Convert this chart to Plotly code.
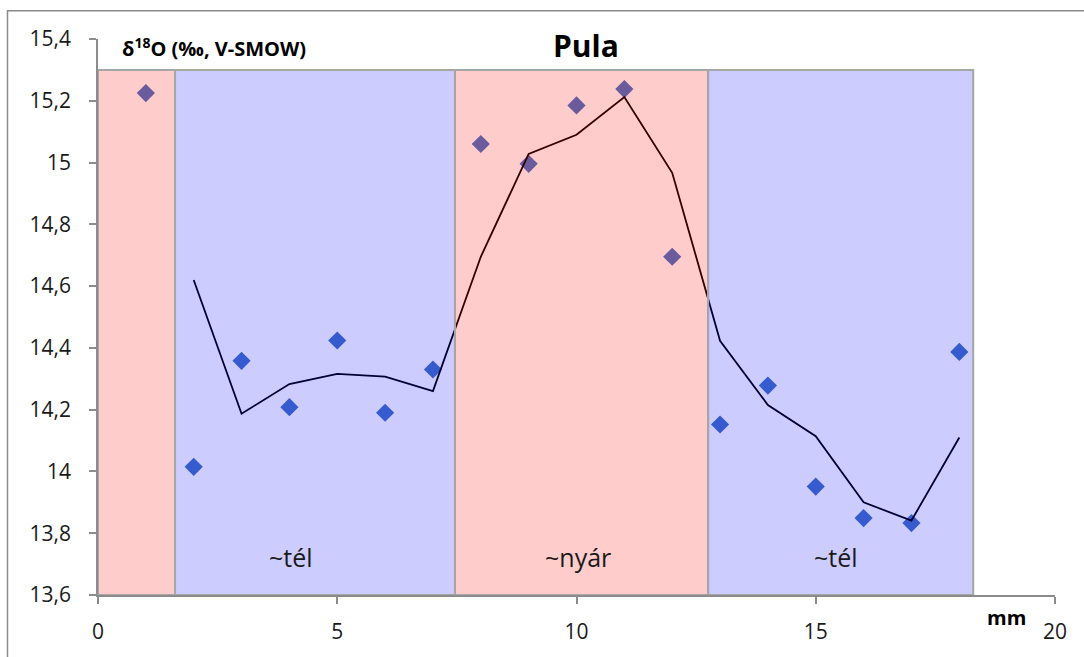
import plotly.graph_objects as go

# ---- data ----
x_points = [1, 2, 3, 4, 5, 6, 7, 8, 9, 10, 11, 12, 13, 14, 15, 16, 17, 18]
d18o = [15.225, 14.015, 14.358, 14.208, 14.424, 14.19, 14.33, 15.06, 14.996,
        15.185, 15.238, 14.695, 14.152, 14.278, 13.951, 13.849, 13.833, 14.387]

x_trend = [2, 3, 4, 5, 6, 7, 8, 9, 10, 11, 12, 13, 14, 15, 16, 17, 18]
trend = [14.62, 14.187, 14.283, 14.316, 14.307, 14.26, 14.695, 15.028, 15.09,
         15.212, 14.967, 14.423, 14.215, 14.114, 13.9, 13.841, 14.11]

season_start = [0, 1.61, 7.46, 12.75]
season_end = [1.61, 7.46, 12.75, 18.29]
season_kind = ["summer", "winter", "summer", "winter"]
season_top = 15.3

season_labels = ["~tél", "~nyár", "~tél"]
season_label_x = [4.03, 10.03, 15.42]
season_label_y = 13.724

x_ticks = [0, 5, 10, 15, 20]
x_tick_labels = ["0", "5", "10", "15", "20"]
y_ticks = [13.6, 13.8, 14.0, 14.2, 14.4, 14.6, 14.8, 15.0, 15.2, 15.4]
y_tick_labels = ["13,6", "13,8", "14", "14,2", "14,4", "14,6", "14,8", "15", "15,2", "15,4"]

title_text = "Pula"
y_title = "δ<sup>18</sup>O (‰, V-SMOW)"
x_title = "mm"

# ---- figure ----
W, H = 1084, 657
ml, mr, mt, mb = 98, 29, 39, 56
pw, ph = W - ml - mr, H - mt - mb

def px_x(p):
    return (p - ml) / pw

def px_y(p):
    return (H - mb - p) / ph

FONT = "Open Sans"
AX = "#8c8c8c"

fig = go.Figure()
fig.add_trace(go.Scatter(x=x_points, y=d18o, mode="markers",
                         marker=dict(symbol="diamond", size=14, color="#4472C4",
                                     line=dict(width=0)),
                         showlegend=False, hoverinfo="x+y"))
fig.add_trace(go.Scatter(x=x_trend, y=trend, mode="lines",
                         line=dict(color="#000000", width=1.8),
                         showlegend=False, hoverinfo="x+y"))

fill = {"summer": "rgba(255,0,0,0.2)", "winter": "rgba(0,0,255,0.2)"}
shapes = []
for s, e, k in zip(season_start, season_end, season_kind):
    shapes.append(dict(type="rect", xref="x", yref="y", x0=s, x1=e, y0=13.6, y1=season_top,
                       fillcolor=fill[k], line=dict(color="#a6a6a6", width=2), layer="above"))
# outer chart frame
shapes.append(dict(type="rect", xref="paper", yref="paper",
                   x0=px_x(7.5), x1=px_x(1100), y0=px_y(680), y1=px_y(10.5),
                   line=dict(color="#8a8a8a", width=1.5), fillcolor="rgba(0,0,0,0)", layer="above"))

annotations = [
    dict(text="<b>" + title_text + "</b>", x=px_x(586), y=px_y(46), xref="paper", yref="paper",
         showarrow=False, font=dict(family=FONT, size=30, color="#000"), xanchor="center", yanchor="middle"),
    dict(text="<b>" + y_title + "</b>", x=px_x(120), y=px_y(48), xref="paper", yref="paper",
         showarrow=False, font=dict(family=FONT, size=20, color="#000"), xanchor="left", yanchor="middle"),
    dict(text="<b>" + x_title + "</b>", x=px_x(1006), y=px_y(624), xref="paper", yref="paper",
         showarrow=False, font=dict(family=FONT, size=20, color="#000"), xanchor="center", yanchor="middle"),
]
for t, lx in zip(season_labels, season_label_x):
    annotations.append(dict(text=t, x=lx, y=season_label_y, xref="x", yref="y", showarrow=False,
                            font=dict(family=FONT, size=25, color="#1a1a1a"),
                            xanchor="center", yanchor="middle"))

fig.update_layout(
    width=W, height=H,
    margin=dict(l=ml, r=mr, t=mt, b=mb, pad=0),
    paper_bgcolor="white", plot_bgcolor="white",
    shapes=shapes, annotations=annotations,
    font=dict(family=FONT, size=21, color="#1a1a1a"),
    xaxis=dict(range=[0, 20], tickvals=x_ticks, ticktext=x_tick_labels, showgrid=False,
               zeroline=False, showline=True, linecolor=AX, linewidth=1.5,
               ticks="outside", ticklen=7, tickcolor=AX, tickwidth=1.5,
               ticklabelstandoff=10, fixedrange=True),
    yaxis=dict(range=[13.6, 15.4], tickvals=y_ticks, ticktext=y_tick_labels, showgrid=False,
               zeroline=False, showline=True, linecolor=AX, linewidth=1.5,
               ticks="outside", ticklen=7, tickcolor=AX, tickwidth=1.5,
               ticklabelstandoff=14, fixedrange=True),
)

fig.write_html("out.html")
